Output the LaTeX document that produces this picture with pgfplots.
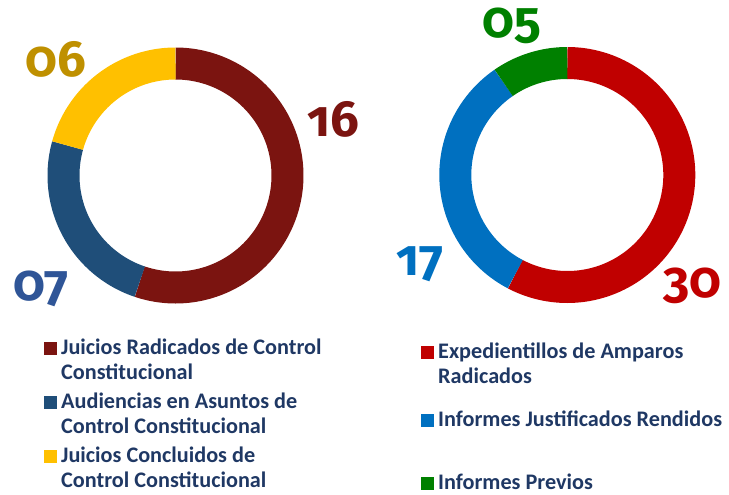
\documentclass[border=0pt]{standalone}
\usepackage{fontspec}
\setmainfont{Carlito}
\newfontfamily\numfont{Fira Sans}[Numbers=OldStyle]
\usepackage{pgfplots}
\usepackage{pgfplotstable}
\pgfplotsset{compat=1.18}
\definecolor{Lone}{HTML}{7B1410}
\definecolor{Ltwo}{HTML}{1F4E79}
\definecolor{Lthree}{HTML}{FFC000}
\definecolor{Rone}{HTML}{C00000}
\definecolor{Rtwo}{HTML}{0070C0}
\definecolor{Rthree}{HTML}{008000}
\definecolor{numL2}{HTML}{2F5597}
\definecolor{numL3}{HTML}{BF9000}
\definecolor{legtext}{HTML}{1F3864}

\pgfplotstableread{
value
16
7
6
}\leftdata
\pgfplotstableread{
value
30
17
5
}\rightdata

\newcommand{\getangles}[2]{%
  \pgfplotstablegetelem{0}{value}\of#1\pgfmathsetmacro\va{\pgfplotsretval}%
  \pgfplotstablegetelem{1}{value}\of#1\pgfmathsetmacro\vb{\pgfplotsretval}%
  \pgfplotstablegetelem{2}{value}\of#1\pgfmathsetmacro\vc{\pgfplotsretval}%
  \pgfmathsetmacro\vs{\va+\vb+\vc}%
  \pgfmathsetmacro\fa{\va/\vs}%
  \pgfmathsetmacro\fb{(\va+\vb)/\vs}%
  \expandafter\xdef\csname #2A\endcsname{90}%
  \pgfmathsetmacro\tmp{90-360*\fa}\expandafter\xdef\csname #2B\endcsname{\tmp}%
  \pgfmathsetmacro\tmp{90-360*\fb}\expandafter\xdef\csname #2C\endcsname{\tmp}%
  \expandafter\xdef\csname #2D\endcsname{-270}%
}
\newcommand{\seg}[5]{%
  \addplot[draw=#5, line width=32bp, line cap=butt, domain=#4:#3, samples=150]
    ({#1+112*cos(x)},{#2-112*sin(x)});
}
\tikzset{
  num/.style={anchor=base, inner sep=0pt, font=\numfont\bfseries\fontsize{51}{51}\selectfont},
  leg/.style={anchor=base west, inner sep=0pt, text=legtext, font=\bfseries\fontsize{22.3}{25}\selectfont},
}

\begin{document}
\begin{tikzpicture}
\getangles{\leftdata}{la}
\getangles{\rightdata}{ra}
\begin{axis}[
  scale only axis, width=729bp, height=495bp,
  xmin=0, xmax=729, ymin=0, ymax=495, y dir=reverse,
  hide axis, clip=false,
]
% left donut
\seg{175.5}{175.5}{\laA}{\laB}{Lone}
\seg{175.5}{175.5}{\laB}{\laC}{Ltwo}
\seg{175.5}{175.5}{\laC}{\laD}{Lthree}
% right donut
\seg{567.3}{175}{\raA}{\raB}{Rone}
\seg{567.3}{175}{\raB}{\raC}{Rtwo}
\seg{567.3}{175}{\raC}{\raD}{Rthree}

% value labels
\node[num, text=Lone] at (axis cs:333,136) {16};
\node[num, text=numL2] at (axis cs:41.5,300) {07};
\node[num, text=numL3] at (axis cs:56,77) {06};
\node[num, text=Rone] at (axis cs:692.5,297) {30};
\node[num, text=Rtwo] at (axis cs:420,275) {17};
\node[num, text=Rthree] at (axis cs:511.5,37.5) {05};

% legend markers
\addplot[only marks, mark=square*, mark size=6bp, color=Lone] coordinates {(50,348)};
\addplot[only marks, mark=square*, mark size=6bp, color=Ltwo] coordinates {(50,402)};
\addplot[only marks, mark=square*, mark size=6bp, color=Lthree] coordinates {(50,456)};
\addplot[only marks, mark=square*, mark size=6bp, color=Rone] coordinates {(426.7,352.5)};
\addplot[only marks, mark=square*, mark size=6bp, color=Rtwo] coordinates {(426.7,420.5)};
\addplot[only marks, mark=square*, mark size=6bp, color=Rthree] coordinates {(426.7,483.5)};

% legend text
\node[leg] at (axis cs:61,354) {Juicios Radicados de Control};
\node[leg] at (axis cs:61,379) {Constitucional};
\node[leg] at (axis cs:61,408) {Audiencias en Asuntos de};
\node[leg] at (axis cs:61,433) {Control Constitucional};
\node[leg] at (axis cs:61,462) {Juicios Concluidos de};
\node[leg] at (axis cs:61,487) {Control Constitucional};
\node[leg] at (axis cs:438,358.3) {Expedientillos de Amparos};
\node[leg] at (axis cs:438,383.3) {Radicados};
\node[leg] at (axis cs:438,426.7) {Informes Justificados Rendidos};
\node[leg] at (axis cs:438,489.3) {Informes Previos};
\end{axis}
\pgfresetboundingbox
\path (current axis.south west) rectangle (current axis.north east);
\end{tikzpicture}
\end{document}
